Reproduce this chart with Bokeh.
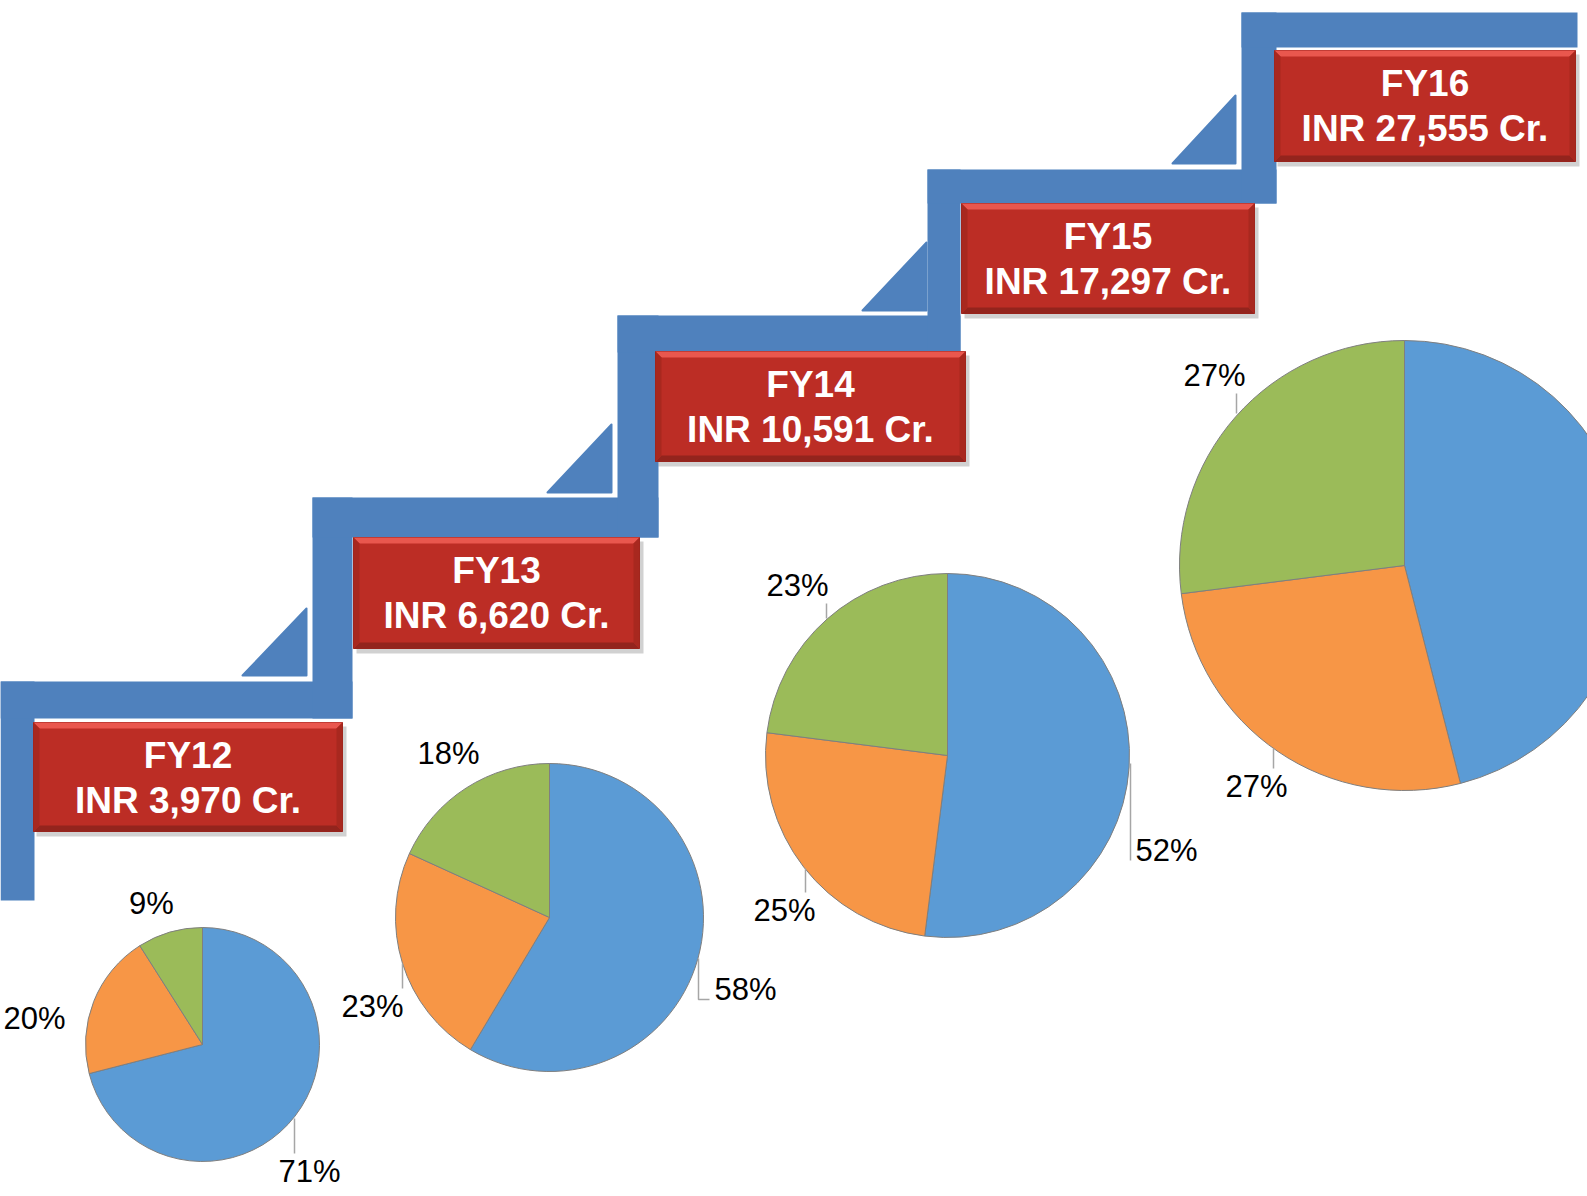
import math
from bokeh.plotting import figure
from bokeh.models import Range1d
from bokeh.embed import file_html
from bokeh.resources import INLINE
from bokeh.core.properties import value

# ---------------- data ----------------
years = ["FY12", "FY13", "FY14", "FY15", "FY16"]
revenue_cr = [3970, 6620, 10591, 17297, 27555]

share_blue = [71, 58, 52, 46]
share_orange = [20, 23, 25, 27]
share_green = [9, 18, 23, 27]

# ---------------- layout / style ----------------
W, H = 1587, 1196
FONT = "Liberation Sans"
STAIR = "#4F81BD"
PIE_COLORS = ["#5B9BD5", "#F79646", "#9BBB59"]
BOX_FS = 37
LBL_FS = 31


def Y(py):
    return H - py


p = figure(width=W, height=H, x_range=Range1d(0, W), y_range=Range1d(0, H),
           output_backend="svg", toolbar_location=None, min_border=0,
           x_axis_location=None, y_axis_location=None)
p.grid.visible = False
p.outline_line_color = None
p.background_fill_color = "white"
p.border_fill_color = "white"

# staircase (left, right, top, bottom in page pixels)
stairs = [
    (0, 34, 681, 900), (0, 352, 681, 718), (312, 352, 497, 718),
    (312, 658, 497, 537), (617, 658, 315, 537), (617, 960, 315, 352),
    (927, 960, 169, 352), (927, 1276, 169, 203), (1241, 1276, 12, 203),
    (1241, 1577, 12, 47),
]
p.quad(left=[s[0] for s in stairs], right=[s[1] for s in stairs],
       top=[Y(s[2]) for s in stairs], bottom=[Y(s[3]) for s in stairs],
       fill_color=STAIR, line_color=None)

tris = [((242, 675), (306, 608), (306, 675)), ((547, 492), (611, 424), (611, 492)),
        ((862, 310), (926, 242), (926, 310)), ((1172, 163), (1235, 95), (1235, 163))]
p.patches(xs=[[a[0] for a in t] for t in tris], ys=[[Y(a[1]) for a in t] for t in tris],
          fill_color=STAIR, line_color=STAIR, line_width=2, line_join="round")

# red boxes
boxes = [(33, 342, 722, 831), (353, 639, 537, 648), (655, 965, 351, 461),
         (961, 1254, 203, 313), (1274, 1575, 50, 161)]
# shadow
p.quad(left=[b[0] + 3 for b in boxes], right=[b[1] + 4 for b in boxes],
       top=[Y(b[2] + 4) for b in boxes], bottom=[Y(b[3] + 5) for b in boxes],
       fill_color="#000000", fill_alpha=0.18, line_color=None)
p.quad(left=[b[0] for b in boxes], right=[b[1] for b in boxes],
       top=[Y(b[2]) for b in boxes], bottom=[Y(b[3]) for b in boxes],
       fill_color="#BC2D25", line_color="#9A231C", line_width=1)
bv = 6
bxs, bys, bcs = [], [], []
for (l, r, t, b) in boxes:
    bxs += [[l, r, r - bv, l + bv], [l, r, r - bv, l + bv],
            [l, l + bv, l + bv, l], [r, r - bv, r - bv, r]]
    bys += [[Y(t), Y(t), Y(t + bv), Y(t + bv)], [Y(b), Y(b), Y(b - bv), Y(b - bv)],
            [Y(t), Y(t + bv), Y(b - bv), Y(b)], [Y(t), Y(t + bv), Y(b - bv), Y(b)]]
    bcs += ["#E9574E", "#93241D", "#A8281F", "#A8281F"]
p.patches(xs=bxs, ys=bys, fill_color=bcs, line_color=None)

tx, ty, tt = [], [], []
for (l, r, t, b), yr, rev in zip(boxes, years, revenue_cr):
    cx = (l + r) / 2
    tx += [cx, cx]
    ty += [Y(t + 33), Y(t + 78)]
    tt += [yr, f"INR {rev:,} Cr."]
p.text(x=tx, y=ty, text=tt, text_font=value(FONT), text_font_size=f"{BOX_FS}px",
       text_font_style="bold", text_color="white", text_align="center",
       text_baseline="alphabetic")

# pies
centers = [(202, 1044), (549, 917), (947, 755), (1404, 565)]
radii = [117, 154, 182, 225]
label_pos = [
    [(309, 1171), (34, 1018), (151, 903)],
    [(745, 989), (372, 1006), (448, 753)],
    [(1166, 850), (784, 910), (797, 585)],
    [None, (1256, 786), (1214, 375)],
]
for i, (c, r) in enumerate(zip(centers, radii)):
    vals = [share_blue[i], share_orange[i], share_green[i]]
    tot = float(sum(vals))
    cum = 0.0
    starts, ends = [], []
    for v in vals:
        starts.append(math.pi / 2 - 2 * math.pi * cum / tot)
        cum += v
        ends.append(math.pi / 2 - 2 * math.pi * cum / tot)
    p.wedge(x=[c[0]] * 3, y=[Y(c[1])] * 3, radius=r, start_angle=starts,
            end_angle=ends, direction="clock", fill_color=PIE_COLORS,
            line_color="#7F7F7F", line_width=1)
    lx, ly, lt = [], [], []
    for v, pos in zip(vals, label_pos[i]):
        if pos is None:
            continue
        lx.append(pos[0])
        ly.append(Y(pos[1]))
        lt.append(f"{v}%")
    p.text(x=lx, y=ly, text=lt, text_font=value(FONT), text_font_size=f"{LBL_FS}px",
           text_color="black", text_align="center", text_baseline="alphabetic")

leaders = [
    [(294, 1118), (294, 1153)], [(402, 963), (402, 988)],
    [(698, 958), (698, 999), (709, 999)], [(826, 603), (826, 618)],
    [(805, 868), (805, 892)], [(1130, 763), (1130, 860)],
    [(1236, 393), (1236, 413)], [(1273, 748), (1273, 768)],
]
p.multi_line(xs=[[a[0] for a in l] for l in leaders],
             ys=[[Y(a[1]) for a in l] for l in leaders],
             line_color="#A6A6A6", line_width=1.5)

open("out.html", "w").write(file_html(p, INLINE))
